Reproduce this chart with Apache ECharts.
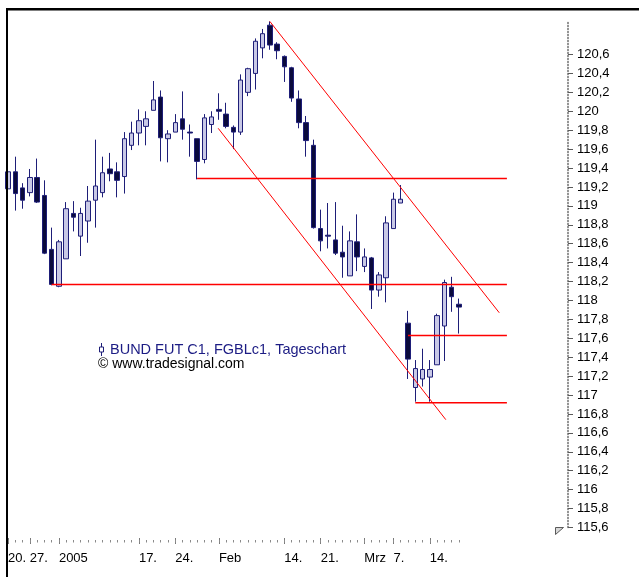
<!DOCTYPE html>
<html>
<head>
<meta charset="utf-8">
<title>BUND FUT C1 Tageschart</title>
<script src="https://cdn.jsdelivr.net/npm/echarts@6/dist/echarts.min.js"></script>
<style>
  html, body { margin: 0; padding: 0; background: #fff; }
  #chart { width: 639px; height: 577px; }
</style>
</head>
<body>
<div id="chart"></div>
<script>
// Tageskerzen von links nach rechts (Dez 2004 - Mrz 2005)
const opens = [
  119.18, 119.36, 119.19, 119.14, 119.30, 119.11, 118.54, 118.15, 118.44, 118.92,
  118.68, 118.84, 119.06, 119.14, 119.39, 119.36, 119.31, 119.64, 119.77, 119.84,
  120.01, 120.15, 119.71, 119.78, 119.92, 119.78, 119.71, 119.49, 119.86, 120.02,
  119.97, 119.83, 119.78, 120.20, 120.40, 120.67, 120.91, 120.71, 120.58, 120.46,
  120.13, 119.88, 119.64, 118.76, 118.69, 118.64, 118.51, 118.26, 118.62, 118.36,
  118.45, 118.11, 118.24, 118.76, 119.03, 117.76, 117.08, 117.17, 117.19, 117.32,
  117.73, 118.14, 117.96
];
const closes = [
  119.36, 119.13, 119.06, 119.30, 119.04, 118.50, 118.17, 118.62, 118.97, 118.88,
  118.92, 119.05, 119.21, 119.35, 119.34, 119.27, 119.71, 119.77, 119.90, 119.92,
  120.12, 119.72, 119.76, 119.88, 119.81, 119.77, 119.47, 119.93, 119.94, 120.00,
  119.84, 119.78, 120.33, 120.45, 120.74, 120.82, 120.70, 120.64, 120.47, 120.14,
  119.88, 119.69, 118.77, 118.63, 118.68, 118.50, 118.46, 118.63, 118.46, 118.46,
  118.11, 118.27, 118.82, 119.07, 119.07, 117.38, 117.28, 117.27, 117.27, 117.84,
  118.19, 118.04, 117.93
];
const lows = [
  119.17, 118.95, 118.97, 119.10, 119.03, 118.49, 118.16, 118.14, 118.44, 118.73,
  118.47, 118.61, 118.77, 119.09, 119.26, 119.09, 119.13, 119.59, 119.64, 119.64,
  120.01, 119.47, 119.46, 119.78, 119.70, 119.52, 119.28, 119.45, 119.77, 119.91,
  119.82, 119.60, 119.75, 120.16, 120.23, 120.56, 120.65, 120.55, 120.31, 120.10,
  119.82, 119.52, 118.76, 118.52, 118.55, 118.48, 118.24, 118.26, 118.31, 118.30,
  117.91, 118.04, 117.98, 118.76, 119.03, 117.17, 116.93, 117.09, 116.93, 117.32,
  117.36, 117.88, 117.65
];
const highs = [
  119.36, 119.52, 119.24, 119.39, 119.50, 119.27, 118.77, 118.64, 119.04, 119.05,
  118.98, 119.21, 119.70, 119.52, 119.56, 119.46, 119.78, 119.89, 120.02, 120.00,
  120.32, 120.22, 119.80, 119.97, 120.21, 119.86, 119.71, 119.97, 120.00, 120.19,
  120.09, 119.85, 120.39, 120.46, 120.77, 120.87, 120.95, 120.73, 120.59, 120.47,
  120.22, 119.95, 119.70, 118.96, 119.03, 119.04, 118.79, 118.73, 118.91, 118.55,
  118.46, 118.30, 118.89, 119.14, 119.22, 117.89, 117.37, 117.49, 117.37, 117.86,
  118.22, 118.25, 118.02
];

// Zeitachse: Kerzenindex und Text
const dayTickIndex = [0, 3, 7, 18, 23, 29, 38, 43, 49, 53, 58];
const dayTickText = ['20.', '27.', '2005', '17.', '24.', 'Feb', '14.', '21.', 'Mrz', '7.', '14.'];

// Preisachse
const priceTicks = [
  115.6, 115.8, 116, 116.2, 116.4, 116.6, 116.8, 117, 117.2, 117.4, 117.6, 117.8, 118,
  118.2, 118.4, 118.6, 118.8, 119, 119.2, 119.4, 119.6, 119.8, 120, 120.2, 120.4, 120.6
];

// Horizontale Linien (Start bei Kerzenindex, Kurs)
const levelStart = [6, 26, 55, 56];
const levelPrice = [118.17, 119.29, 117.63, 116.92];
const levelEnd = 68.6;

// Trendlinien [Index, Kurs]
const trendUpper = [[36, 120.95], [67.55, 117.87]];
const trendLower = [[28.9, 119.82], [60.2, 116.74]];

const slots = 78; // Kerzen plus freier Raum rechts
const lastCandle = opens.length - 1;
const FONT = '"Liberation Sans", Arial, sans-serif';
const NAME = 'BUND FUT C1, FGBLc1, Tageschart';

const categories = Array.from({ length: slots }, (_, i) => String(i));
const candleData = opens.map((o, i) => [o, closes[i], lows[i], highs[i]]);

const chart = echarts.init(document.getElementById('chart'));

const lineSeries = [];
levelStart.forEach((s, i) => {
  lineSeries.push({
    type: 'line',
    xAxisIndex: 2,
    symbol: 'none',
    silent: true,
    lineStyle: { color: '#ff0000', width: 1.5 },
    data: [[s, levelPrice[i]], [levelEnd, levelPrice[i]]]
  });
});
[trendUpper, trendLower].forEach(t => {
  lineSeries.push({
    type: 'line',
    xAxisIndex: 2,
    symbol: 'none',
    silent: true,
    lineStyle: { color: '#ff0000', width: 1 },
    data: t
  });
});

const option = {
  animation: false,
  backgroundColor: '#fff',
  grid: { left: 8, right: 71, top: 21.4, bottom: 49.5 },
  legend: {
    left: 94,
    top: 337,
    itemWidth: 7,
    itemHeight: 13,
    data: [{
      name: NAME,
      icon: 'path://M3,0L3,4M1,4L5,4L5,9L1,9ZM3,9L3,13',
      itemStyle: { color: '#ffffff', borderColor: '#1e1e78', borderWidth: 1 }
    }],
    textStyle: { color: '#1c1c84', fontSize: 14.5, fontFamily: FONT },
    selectedMode: false
  },
  xAxis: [
    {
      // Beschriftung + lange Striche
      type: 'category',
      data: categories,
      boundaryGap: false,
      position: 'bottom',
      offset: 10.5,
      axisLine: { show: false, onZero: false },
      axisTick: {
        show: true,
        length: 6,
        interval: (i) => dayTickIndex.includes(i),
        lineStyle: { color: '#7a7a7a' }
      },
      axisLabel: {
        interval: (i) => dayTickIndex.includes(i),
        formatter: (v, i) => {
          const k = dayTickIndex.indexOf(i);
          return k >= 0 ? dayTickText[k] : '';
        },
        align: 'left',
        margin: 14,
        color: '#000',
        fontSize: 13,
        fontFamily: FONT
      },
      splitLine: { show: false }
    },
    {
      // kurze Striche je Handelstag
      type: 'category',
      data: categories,
      boundaryGap: false,
      position: 'bottom',
      offset: 12.5,
      axisLine: { show: false, onZero: false },
      axisTick: {
        show: true,
        length: 2.5,
        interval: (i) => i <= lastCandle,
        lineStyle: { color: '#8a8a8a' }
      },
      axisLabel: { show: false },
      splitLine: { show: false }
    },
    {
      type: 'value',
      min: 0,
      max: slots - 1,
      show: false,
      axisLine: { onZero: false }
    }
  ],
  yAxis: {
    type: 'value',
    position: 'right',
    min: 115.6,
    max: 120.95,
    splitLine: { show: false },
    axisLine: { show: true, onZero: false, lineStyle: { color: '#6a6a6a', type: [1, 2], width: 1.5 } },
    axisTick: { show: true, customValues: priceTicks, length: 5, lineStyle: { color: '#5a5a5a' } },
    axisLabel: {
      customValues: priceTicks,
      formatter: (v) => String(+v.toFixed(1)).replace('.', ','),
      margin: 9,
      color: '#000',
      fontSize: 13,
      fontFamily: FONT
    }
  },
  series: [
    {
      name: NAME,
      type: 'candlestick',
      xAxisIndex: 0,
      barWidth: 5,
      itemStyle: {
        color: '#c9c9e6',
        color0: '#0a0a3c',
        borderColor: '#1e1e78',
        borderColor0: '#1e1e78',
        borderWidth: 1
      },
      data: candleData
    },
    ...lineSeries
  ],
  graphic: [
    // Rahmen oben und links
    { type: 'line', shape: { x1: 6, y1: 9.3, x2: 639, y2: 9.3 }, style: { stroke: '#000', lineWidth: 2.5 }, z: 100 },
    { type: 'line', shape: { x1: 7, y1: 8, x2: 7, y2: 577 }, style: { stroke: '#000', lineWidth: 2 }, z: 100 },
    {
      type: 'text', left: 98, top: 357,
      style: { text: '\u00a9 www.tradesignal.com', fill: '#000', font: '14px ' + FONT }
    },
    {
      type: 'polygon',
      shape: { points: [[555.5, 527.5], [563.5, 527.5], [555.5, 534.5]] },
      style: { fill: '#d8d8d8', stroke: '#5a5a5a', lineWidth: 1 }
    }
  ]
};

chart.setOption(option);
window.addEventListener('resize', () => chart.resize());
</script>
</body>
</html>
